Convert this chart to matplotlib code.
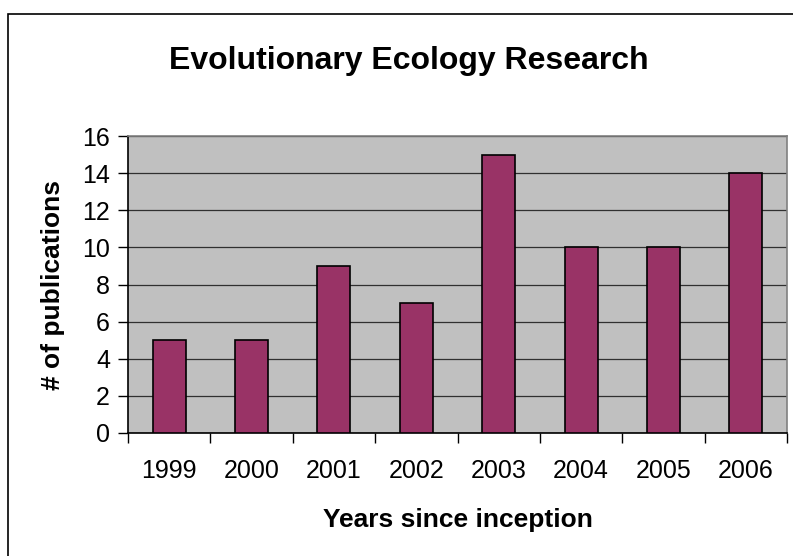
import matplotlib
matplotlib.use("Agg")
import matplotlib.pyplot as plt
from matplotlib.patches import Rectangle

years = ["1999", "2000", "2001", "2002", "2003", "2004", "2005", "2006"]
publications = [5, 5, 9, 7, 15, 10, 10, 14]
yticks = [0, 2, 4, 6, 8, 10, 12, 14, 16]

plt.rcParams['font.family'] = ['Liberation Sans', 'DejaVu Sans']

W, H = 793, 556
fig = plt.figure(figsize=(W / 100, H / 100), dpi=100)
fig.patch.set_facecolor('white')

# outer chart border (left and top visible)
fig.add_artist(Rectangle((8 / W, -0.1), 1.2, 1 - 14 / H + 0.1, transform=fig.transFigure,
                         fill=False, edgecolor='black', linewidth=1.2))

ax = fig.add_axes([128 / W, 1 - 433 / H, (787 - 128) / W, (433 - 136) / H])
ax.set_facecolor('#C0C0C0')
x = list(range(len(years)))
ax.bar(x, publications, width=0.4, color='#993366', edgecolor='black', linewidth=1.2, zorder=3)
ax.set_xlim(-0.5, len(years) - 0.5)
ax.set_ylim(0, 16)
ax.set_yticks(yticks)
ax.set_yticklabels([str(v) for v in yticks], fontsize=18)
ax.yaxis.grid(True, color='#303030', linewidth=0.9, zorder=1)
ax.set_axisbelow(True)

ax.set_xticks(x)
ax.set_xticklabels(years, fontsize=18)
ax.tick_params(axis='x', length=0, pad=18.5)
ax.set_xticks([i - 0.5 for i in range(len(years) + 1)], minor=True)
ax.tick_params(axis='x', which='minor', length=7, width=1, color='black', direction='out')
ax.tick_params(axis='y', length=7, width=1, color='black', direction='out', pad=6)

for s in ['top', 'right']:
    ax.spines[s].set_color('#808080')
    ax.spines[s].set_linewidth(1.2)
for s in ['left', 'bottom']:
    ax.spines[s].set_color('black')
    ax.spines[s].set_linewidth(1.2)

ax.set_xlabel('Years since inception', fontsize=19, fontweight='bold', labelpad=18)
ax.set_ylabel('# of publications', fontsize=19, fontweight='bold', labelpad=12)

fig.text(409 / W, 1 - 61 / H, 'Evolutionary Ecology Research', ha='center', va='center',
         fontsize=23, fontweight='bold')

fig.savefig('out.png', dpi=100)
